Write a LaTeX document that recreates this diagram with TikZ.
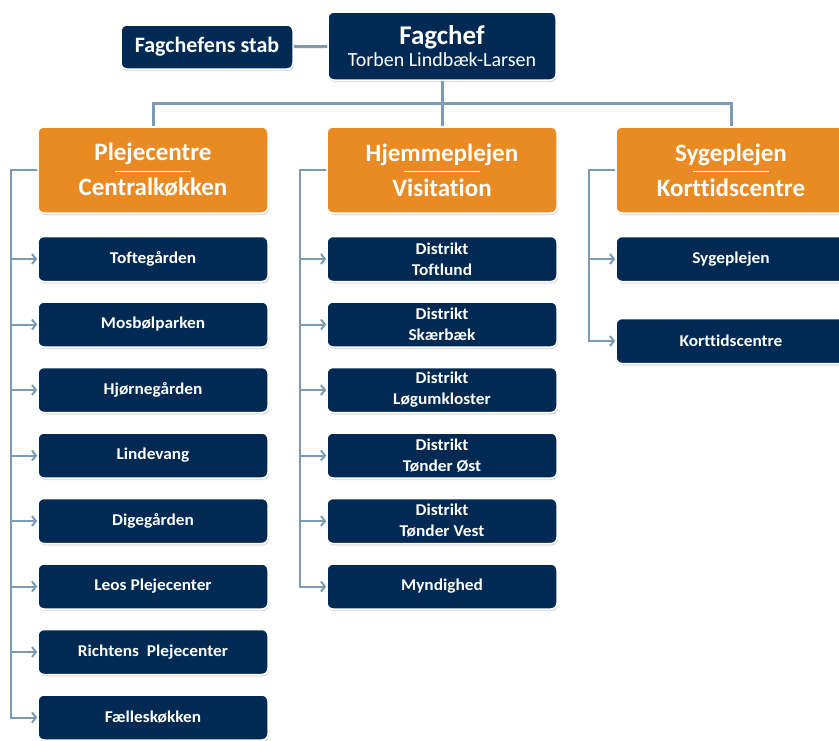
\documentclass[tikz,border=0pt]{standalone}
\usepackage{fontspec}
\setmainfont{Carlito}[Ligatures=NoCommon]
\newfontfamily\unitfont{Carlito}[Ligatures=NoCommon, FakeStretch=1.05]
\usetikzlibrary{shadows,arrows.meta}
\definecolor{navy}{HTML}{002A54}
\definecolor{orng}{HTML}{EA8A22}
\definecolor{conn}{HTML}{7B9BB4}
\tikzset{
 box/.style={rounded corners=6pt, draw=white, line width=1.5pt, text=white, align=center,
   drop shadow={opacity=0.25, shadow xshift=1pt, shadow yshift=-2pt}, inner sep=0pt},
 navybox/.style={box, fill=navy},
 headbox/.style={box, fill=orng, minimum width=230pt, minimum height=86pt,
   font=\bfseries\fontsize{25}{35}\selectfont},
 unitbox/.style={navybox, minimum width=230pt, minimum height=45pt,
   font=\unitfont\bfseries\fontsize{16.5}{21}\selectfont},
 link/.style={conn, line width=3pt},
 branch/.style={conn, line width=2pt, -{Straight Barb[length=4pt,width=10pt]}},
 sep/.style={white, line width=0.8pt},
}
\begin{document}
\begin{tikzpicture}[x=1pt,y=-1pt]
\useasboundingbox (0,0) rectangle (839,740);
\fill[white] (0,0) rectangle (839,740);
% top
\node[navybox, minimum width=172pt, minimum height=44pt, font=\bfseries\fontsize{22}{24}\selectfont] (stab) at (207,47) {Fagchefens stab};
\node[navybox, minimum width=228pt, minimum height=68pt, align=center] (chief) at (442,46)
  {{\bfseries\fontsize{27}{27}\selectfont Fagchef}\\[3pt]{\fontsize{20}{22}\selectfont Torben Lindbæk-Larsen}};
% heads
\node[headbox] (pc) at (153,170) {Plejecentre\\Centralkøkken};
\node[headbox] (hj) at (442,170) {Hjemmeplejen\\Visitation};
\node[headbox] (sy) at (731,170) {Sygeplejen\\Korttidscentre};
\foreach \n in {pc,hj,sy} \draw[sep] ([xshift=-38pt,yshift=-1pt]\n.center) -- ([xshift=38pt,yshift=-1pt]\n.center);
% connectors top
\draw[link] (stab) -- (chief);
\draw[link] (chief.south) -- (hj.north);
\draw[link] (chief.south) -- ++(0,23) -| (pc.north);
\draw[link] (chief.south) -- ++(0,23) -| (sy.north);
% left column
\node[unitbox] (a1) at (153,259) {Toftegården};
\node[unitbox] (a2) at (153,324.5) {Mosbølparken};
\node[unitbox] (a3) at (153,390) {Hjørnegården};
\node[unitbox] (a4) at (153,455.5) {Lindevang};
\node[unitbox] (a5) at (153,521) {Digegården};
\node[unitbox] (a6) at (153,586.5) {Leos Plejecenter};
\node[unitbox] (a7) at (153,652) {Richtens\ \ Plejecenter};
\node[unitbox] (a8) at (153,717.5) {Fælleskøkken};
\foreach \i in {1,...,8} \draw[branch] (pc.west) -- ++(-26,0) |- (a\i.west);
% middle column
\node[unitbox] (b1) at (442,259) {Distrikt\\Toftlund};
\node[unitbox] (b2) at (442,324.5) {Distrikt\\Skærbæk};
\node[unitbox] (b3) at (442,390) {Distrikt\\Løgumkloster};
\node[unitbox] (b4) at (442,455.5) {Distrikt\\Tønder Øst};
\node[unitbox] (b5) at (442,521) {Distrikt\\Tønder Vest};
\node[unitbox] (b6) at (442,586.5) {Myndighed};
\foreach \i in {1,...,6} \draw[branch] (hj.west) -- ++(-26,0) |- (b\i.west);
% right column
\node[unitbox] (c1) at (731,259) {Sygeplejen};
\node[unitbox] (c2) at (731,341) {Korttidscentre};
\foreach \i in {1,2} \draw[branch] (sy.west) -- ++(-26,0) |- (c\i.west);
\end{tikzpicture}
\end{document}
